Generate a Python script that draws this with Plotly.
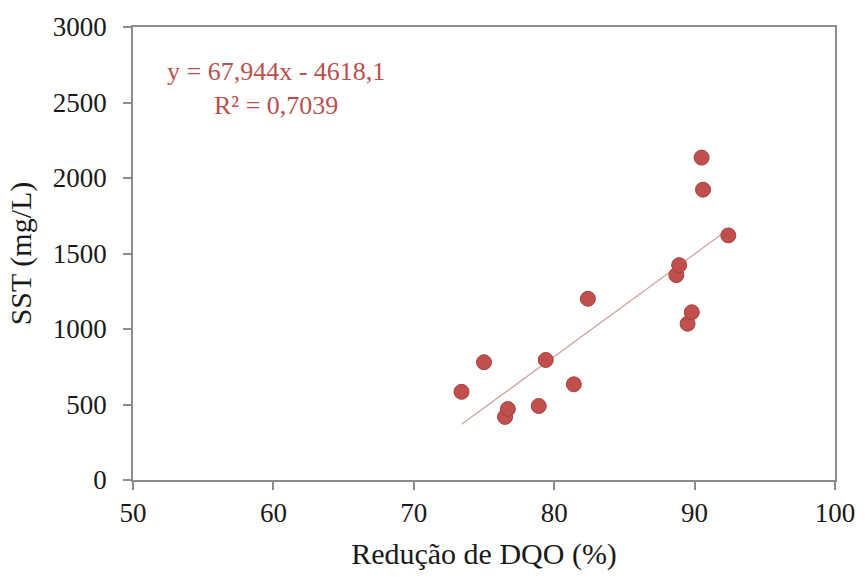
import plotly.graph_objects as go

reducao_dqo = [73.4, 75.0, 76.5, 76.7, 78.9, 79.4, 81.4, 82.4, 88.7, 88.9, 89.5, 89.8, 90.5, 90.6, 92.4]
sst = [584, 780, 418, 470, 490, 795, 634, 1200, 1357, 1423, 1035, 1111, 2135, 1923, 1620]

slope = 67.944
intercept = -4618.1
eq_text = "y = 67,944x - 4618,1<br>R² = 0,7039"

x_ticks = [50, 60, 70, 80, 90, 100]
y_ticks = [0, 500, 1000, 1500, 2000, 2500, 3000]

red = "#C0504D"
font_family = "Liberation Serif, Times New Roman, serif"

x_min, x_max = min(reducao_dqo), max(reducao_dqo)
trend_x = [x_min, x_max]
trend_y = [slope * v + intercept for v in trend_x]

fig = go.Figure()
fig.add_trace(go.Scatter(x=trend_x, y=trend_y, mode="lines",
                         line=dict(color="#D3A4A2", width=1.3),
                         hoverinfo="skip", showlegend=False))
fig.add_trace(go.Scatter(x=reducao_dqo, y=sst, mode="markers",
                         marker=dict(color=red, size=15,
                                     line=dict(color="#A8403D", width=1)),
                         showlegend=False))

fig.add_annotation(x=60.2, y=2590, xref="x", yref="y", text=eq_text,
                   showarrow=False, align="center",
                   font=dict(family=font_family, size=26, color="#B9504D"))

axis_common = dict(showgrid=False, zeroline=False, showline=True,
                   linecolor="#8C8C8C", linewidth=1.5, mirror=True,
                   ticks="outside", tickcolor="#8C8C8C", ticklen=8, tickwidth=1.5,
                   tickfont=dict(family=font_family, size=27, color="#1a1a1a"))

fig.update_xaxes(range=[50, 100], tickvals=x_ticks,
                 title=dict(text="Redução de DQO (%)",
                            font=dict(family=font_family, size=30, color="#1a1a1a"),
                            standoff=16),
                 **axis_common)
fig.update_yaxes(range=[0, 3000], tickvals=y_ticks,
                 title=dict(text="SST (mg/L)",
                            font=dict(family=font_family, size=30, color="#1a1a1a"),
                            standoff=12),
                 ticklabelstandoff=11,
                 **axis_common)

fig.update_layout(width=867, height=577,
                  margin=dict(l=133, r=26, t=22, b=96),
                  plot_bgcolor="white", paper_bgcolor="white")

fig.write_html("out.html")
